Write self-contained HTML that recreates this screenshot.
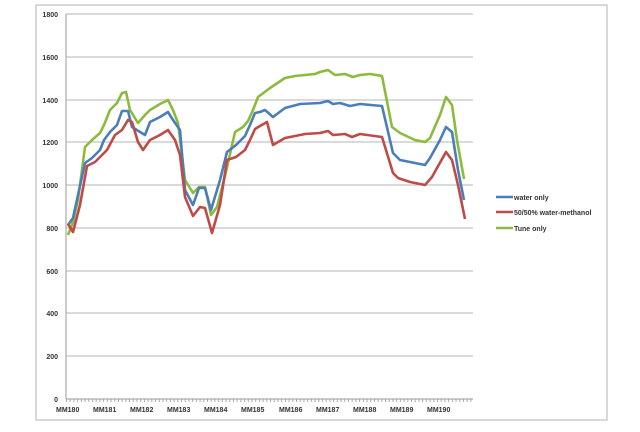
<!DOCTYPE html>
<html><head><meta charset="utf-8"><style>
body{margin:0;background:#fff;width:640px;height:427px;overflow:hidden}
text{font-family:"Liberation Sans",sans-serif;font-weight:bold;fill:#333}
</style></head><body>
<svg width="640" height="427" viewBox="0 0 640 427">
<defs><pattern id="tk" x="66" y="0" width="3.71" height="427" patternUnits="userSpaceOnUse"><line x1="0.5" y1="0" x2="0.5" y2="427" stroke="#aaa" stroke-width="1"/></pattern></defs>
<rect x="36" y="5" width="571" height="415" fill="#fff" stroke="#bdbdbd" stroke-width="1.2"/>
<g stroke="#c4c4c4" stroke-width="1.2">
<line x1="66" y1="14" x2="473" y2="14"/><line x1="66" y1="57" x2="473" y2="57"/>
<line x1="66" y1="100" x2="473" y2="100"/><line x1="66" y1="142" x2="473" y2="142"/>
<line x1="66" y1="185" x2="473" y2="185"/><line x1="66" y1="228" x2="473" y2="228"/>
<line x1="66" y1="271" x2="473" y2="271"/><line x1="66" y1="313" x2="473" y2="313"/>
<line x1="66" y1="356" x2="473" y2="356"/>
</g>
<rect x="66" y="399" width="407" height="3" fill="url(#tk)"/>
<line x1="66" y1="14" x2="66" y2="399" stroke="#999" stroke-width="1"/>
<line x1="66" y1="399" x2="473" y2="399" stroke="#999" stroke-width="1"/>
<g font-size="7" text-anchor="end">
<text x="58" y="17">1800</text><text x="58" y="60">1600</text><text x="58" y="103">1400</text>
<text x="58" y="145">1200</text><text x="58" y="188">1000</text><text x="58" y="231">800</text>
<text x="58" y="274">600</text><text x="58" y="316">400</text><text x="58" y="359">200</text>
<text x="58" y="402">0</text>
</g>
<g font-size="7">
<text x="56" y="412">MM180</text><text x="93" y="412">MM181</text><text x="130" y="412">MM182</text>
<text x="167" y="412">MM183</text><text x="204" y="412">MM184</text><text x="241" y="412">MM185</text>
<text x="279" y="412">MM186</text><text x="316" y="412">MM187</text><text x="353" y="412">MM188</text>
<text x="390" y="412">MM189</text><text x="427" y="412">MM190</text>
</g>
<g fill="none" stroke-width="2.6" stroke-linejoin="round">
<polyline stroke="#8cbb3c" points="68,235 73,222 78,200 85,147 92,140 100,133 104,125 110,110 117,103 122,93 126,92 130,110 138,123 145,115 150,110 160,104 168,100 173,110 178,123 185,180 193,193 199,187 205,187 211,215 217,207 226,172 235,132 243,127 248,121 253,110 258,97 270,88 285,78 295,76 305,75 315,74 320,72 328,70 335,75 345,74 353,77 360,75 370,74 382,76 392,127 400,133 415,140 425,142 430,138 440,115 446,97 452,105 457,140 464,179"/>
<polyline stroke="#4a7ebb" points="68,225 73,218 85,163 92,158 100,150 104,140 110,132 117,125 122,111 128,111 132,127 145,135 150,122 160,117 168,112 173,120 180,130 185,190 193,205 199,188 205,188 211,210 220,180 227,152 236,145 245,136 250,125 255,113 260,112 265,110 273,117 285,108 300,104 320,103 328,101 333,104 340,103 350,106 360,104 382,106 393,153 400,160 415,163 425,165 430,158 440,140 446,127 452,132 458,170 464,200"/>
<polyline stroke="#be4b48" points="68,224 73,232 80,205 87,166 95,162 107,150 115,135 122,130 128,120 132,122 138,142 143,150 150,140 160,135 168,130 175,140 180,155 185,197 193,216 200,207 205,208 212,233 220,205 227,160 236,157 245,150 250,140 255,129 260,126 267,122 273,145 285,138 305,134 320,133 328,131 333,135 345,134 352,137 360,134 382,137 393,173 398,178 410,182 425,185 432,177 437,168 446,152 452,160 458,185 465,219"/>
</g>
<g stroke-width="2.6">
<line x1="496" y1="197" x2="513" y2="197" stroke="#4a7ebb"/>
<line x1="496" y1="212" x2="513" y2="212" stroke="#be4b48"/>
<line x1="496" y1="228" x2="513" y2="228" stroke="#8cbb3c"/>
</g>
<g font-size="7">
<text x="514" y="200">water only</text>
<text x="514" y="215">50/50% water-methanol</text>
<text x="514" y="231">Tune only</text>
</g>
</svg>
</body></html>
